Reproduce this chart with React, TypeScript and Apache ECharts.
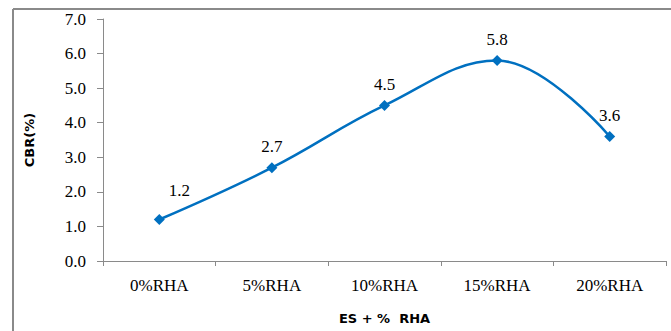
import React, { useEffect, useRef } from "react";
import * as echarts from "echarts";

const categories = ["0%RHA", "5%RHA", "10%RHA", "15%RHA", "20%RHA"];
const cbrValues = [1.2, 2.7, 4.5, 5.8, 3.6];
const yTicks = { min: 0, max: 7, interval: 1 };

const BLUE = "#0070C0";
const GREY = "#8a8a8a";
const SERIF = "'Liberation Serif', 'Times New Roman', serif";
const SANS = "'DejaVu Sans', Arial, sans-serif";

const W = 671;
const H = 331;

export default function App() {
  const ref = useRef<HTMLDivElement>(null);

  useEffect(() => {
    if (!ref.current) return;
    const chart = echarts.init(ref.current, null, { renderer: "svg", width: W, height: H });
    chart.setOption({
      animation: false,
      backgroundColor: "#ffffff",
      graphic: [
        { type: "line", shape: { x1: 13, y1: 9, x2: W, y2: 9 }, style: { stroke: GREY, lineWidth: 2 } },
        { type: "line", shape: { x1: 13, y1: 9, x2: 13, y2: H }, style: { stroke: GREY, lineWidth: 2 } },
      ],
      grid: { left: 103, right: 5, top: 19, bottom: 70, containLabel: false },
      xAxis: {
        type: "category",
        data: categories,
        boundaryGap: true,
        name: "ES + %  RHA",
        nameLocation: "middle",
        nameGap: 51,
        nameTextStyle: { fontFamily: SANS, fontWeight: "bold", fontSize: 13, color: "#000" },
        axisLine: { lineStyle: { color: GREY, width: 1 } },
        axisTick: { show: true, alignWithLabel: false, length: 5, lineStyle: { color: GREY } },
        axisLabel: { fontFamily: SERIF, fontSize: 17, color: "#000", margin: 16 },
      },
      yAxis: {
        type: "value",
        min: yTicks.min,
        max: yTicks.max,
        interval: yTicks.interval,
        name: "CBR(%)",
        nameLocation: "middle",
        nameGap: 67,
        nameTextStyle: { fontFamily: SANS, fontWeight: "bold", fontSize: 13, color: "#000" },
        axisLine: { show: true, lineStyle: { color: GREY, width: 1 } },
        axisTick: { show: true, length: 6, lineStyle: { color: GREY } },
        splitLine: { show: false },
        axisLabel: {
          fontFamily: SERIF,
          fontSize: 17,
          color: "#000",
          margin: 17,
          formatter: (v: number) => v.toFixed(1),
        },
      },
      series: [
        {
          type: "line",
          data: cbrValues.map((v, i) =>
            i === 0 ? { value: v, label: { offset: [20, -8] } } : v
          ),
          smooth: 0.4,
          symbol: "diamond",
          symbolSize: 11,
          lineStyle: { color: BLUE, width: 2.5 },
          itemStyle: { color: BLUE },
          label: {
            show: true,
            position: "top",
            distance: 7,
            fontFamily: SERIF,
            fontSize: 17,
            color: "#000",
            formatter: (p: any) => Number(p.value).toFixed(1),
          },
        },
      ],
    });
    return () => chart.dispose();
  }, []);

  return (
    <div
      ref={ref}
      style={{ position: "fixed", left: 0, top: 0, width: W, height: H }}
    />
  );
}
